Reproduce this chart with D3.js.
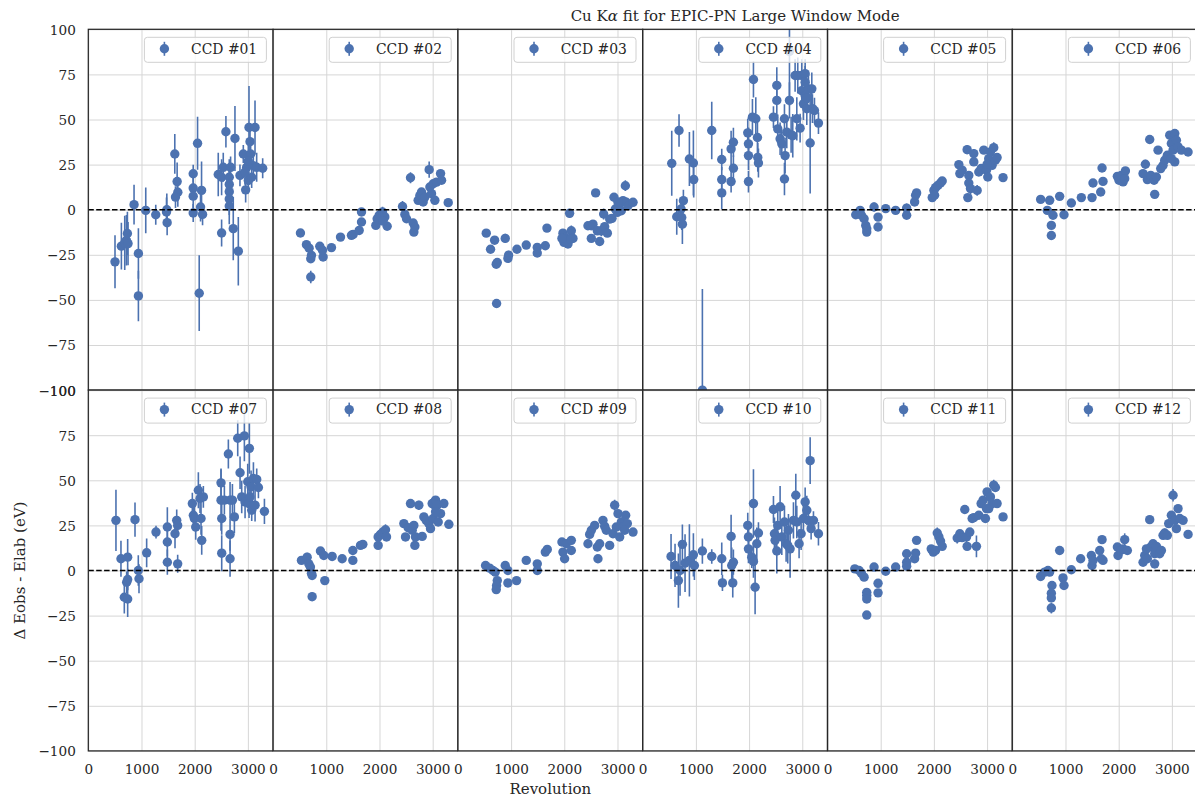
<!DOCTYPE html>
<html>
<head>
<meta charset="utf-8">
<script src="https://cdn.jsdelivr.net/npm/d3@7"></script>
<style>
  html, body { margin: 0; padding: 0; background: #ffffff; }
  svg { display: block; }
  text { font-family: "DejaVu Serif", serif; fill: #262626; }
</style>
</head>
<body>
<svg id="chart" width="1195" height="798"></svg>
<script>
// Each row: [revolution, delta E (eV), 1-sigma error (eV)]
const ccd01 = [[502,-28.9,14.7],[622,-20.2,13],[685,-18.4,15],[716,-17,14],[735,-13.2,12],[747,-18.8,12],[860,2.8,11],[942,-24.3,14],[942,-47.8,14],[1080,-0.4,12.7],[1268,-2.8,5.5],[1476,0,9],[1482,-7.2,7],[1470,-1.3,8],[1626,30.9,11],[1670,15.6,10.5],[1683,9.7,8],[1639,7,6],[1972,19.9,5],[1972,12,6],[1972,7.5,7],[1972,-1.8,5],[2054,36.8,14.7],[2085,-46.3,21],[2129,10.7,16],[2110,1.5,8],[2148,-2.6,6],[2443,19.5,12],[2506,-12.9,7.5],[2506,18,10],[2537,23.5,8],[2587,43.2,8.7],[2650,18,10],[2650,14,9],[2650,10,8],[2650,6,9],[2650,2,10],[2675,23.5,6],[2757,39.5,18],[2725,-10.5,17.5],[2820,-23,19],[2851,19,6],[2914,30.9,5],[2958,11,7],[2977,23.5,8],[3021,45.6,23],[3040,37.7,10],[3052,30.9,8],[3008,16.2,7],[3102,24.4,6],[3134,45.6,15],[3165,23.5,8],[3278,23,5.5],[3008,27,9],[2945,20.8,7],[3071,18,6]];
const ccd02 = [[514,-12.9,2],[627,-19.4,2],[677,-21.3,2],[721,-25.3,2],[708,-27.2,2],[708,-37.3,3.5],[878,-20.3,2],[940,-26.2,2],[928,-22.5,2],[1097,-21,1.5],[1267,-15.2,1.5],[1473,-14.2,1.5],[1505,-13.7,1.5],[1618,-11.5,2],[1662,-6.8,2],[1662,-1.3,2],[1931,-8.7,2],[1956,-5,2],[1994,-3.1,3],[2057,-1.3,3],[2100,-4,2],[2144,-9.2,2],[2069,-6.3,2],[2433,1.8,3],[2477,-2.6,2],[2508,-5,2],[2583,17.7,3],[2633,-7.4,2],[2646,-12.4,2],[2665,-9.6,2],[2727,5.2,2],[2759,7.9,3],[2790,9.8,2],[2821,4.3,2],[2853,7,2],[2934,22.2,4.5],[2947,12.6,2],[2978,8.9,2],[3010,14.4,2],[3041,5.2,2],[3072,15.3,2],[3148,20,2],[3167,16.3,2],[3292,3.9,2]];
const ccd03 = [[533,-13,2],[690,-16.9,2],[614,-21.9,2],[890,-15.9,2.5],[740,-29.3,2],[721,-30.2,2],[727,-52,2.5],[940,-27,2],[953,-25.2,2.5],[1110,-21.9,2],[1285,-19.6,2],[1492,-20.9,2],[1492,-24,2],[1643,-20,2],[1674,-10.2,2],[1975,-13,2],[1994,-18.1,2],[2019,-15.4,2],[2069,-19,2],[2100,-2,2.5],[2132,-11.7,3],[2163,-15.9,2],[2119,-16.3,2],[1956,-15.9,2],[2445,-8.9,2],[2508,-15.9,2],[2508,-8.9,2],[2539,-8,2],[2589,9.3,2],[2621,-11.7,2],[2665,-17.6,2],[2696,-11.7,3],[2740,-2.4,3],[2759,-9.4,2],[2809,-13,2],[2853,-5.2,2],[2897,-4.8,2],[2934,6.9,2],[2959,0.4,2],[2997,-1.5,2],[3041,3.1,2],[3072,-0.6,2],[3148,13.3,3],[3104,5,2],[3166,4.1,2],[3198,2.2,2],[3292,4.1,2],[3010,4.1,2]];
const ccd04 = [[546,25.7,18],[683,43.9,9],[640,-3.9,10],[721,0.4,6],[765,5,6],[734,-4.3,7],[746,-8,11],[878,28.1,15],[953,25.9,18],[959,16.7,10],[1122,-100,56],[1298,43.9,16],[1486,27.8,6],[1486,16.7,7],[1486,9.3,9],[1662,15.6,6],[1662,33.7,10],[1705,37.4,8],[1705,23,7],[1975,42.6,8],[1988,36.5,9],[1988,30,8],[1988,15.6,6],[2082,72.2,10],[2063,51.3,10],[2126,50.4,12],[2157,40,9],[2163,29,8],[2176,25.9,8],[2458,51.3,6],[2521,68.9,10],[2521,60.6,9],[2539,44.8,8],[2583,39.3,9],[2615,36.5,8],[2665,17,9],[2677,30,10],[2665,50.4,8],[2709,43,9],[2759,87.8,30],[2759,60.6,10],[2790,41.5,10],[2821,41,12],[2865,74.4,9],[2897,50.4,12],[2915,74.4,10],[2959,45.2,8],[2990,74.4,9],[3054,75.4,8],[2990,66,9],[3022,58.7,9],[3054,63.3,8],[3085,56,9],[3116,67,8],[3148,37,28],[3179,67,9],[3191,56,8],[3229,55,7],[3304,48,6],[3054,70.7,9],[3085,62,8]];
const ccd05 = [[531,-2.8,2],[613,-0.4,2],[638,-3.1,2],[688,-5,2],[719,-8.7,2],[738,-12.4,2],[738,-10.6,2],[875,1.5,2.5],[950,-4.1,2],[950,-9.6,2],[1094,0.6,2],[1281,-0.4,2],[1488,0.9,2.5],[1488,-3.1,2],[1638,4.3,2],[1675,9.3,2],[1656,8,2],[1969,6.7,2],[2000,10.7,2],[2031,12.2,2],[2075,13.5,2],[2125,14.8,3],[2156,15.9,2],[2013,8,2],[2469,25,2],[2488,20,2],[2531,21.9,2],[2625,33.3,2.5],[2656,19,2],[2656,14.8,2],[2638,6.7,2],[2688,11.7,3],[2750,31.1,2.5],[2750,26.5,2],[2813,10.7,3],[2844,20.9,2],[2888,22.8,2],[2938,33,2],[2988,21.9,2],[3013,18.1,2],[3031,28.3,2],[3063,32,2],[3094,24.6,2],[3125,34.4,3],[3156,27.4,2],[3188,28.9,2],[3300,17.8,2],[3000,25.2,2]];
const ccd06 = [[533,5.7,2],[702,5.2,2],[658,-0.4,2],[765,-3.1,2],[734,-8.7,2],[734,-14.3,2.5],[890,7.4,2],[972,-2.8,2],[1110,3.7,2],[1298,6.7,2],[1499,6.7,2],[1517,14.8,2],[1662,9.8,2],[1687,23.1,2],[1705,15.7,2],[1975,18.5,2],[2006,16.3,2],[2050,19,2],[2082,15.4,2],[2126,21.5,2],[2113,17.2,2],[2458,20,2],[2502,25.2,2.5],[2539,16.7,2],[2583,38.9,2],[2602,19,2],[2665,16.3,2],[2677,8.5,2],[2709,18.1,2],[2740,33,2],[2790,22.8,2],[2834,24.6,2],[2865,27.4,2],[2915,30.2,2],[2959,41.3,2],[2990,36.7,2],[3022,33,2],[3054,42.2,2],[3054,26.5,2],[3085,38.5,2],[3116,34.8,2],[3179,33,2],[3304,32,2],[2990,28.3,2]];
const ccd07 = [[520,27.8,17],[614,6.5,10],[740,7.4,10],[677,-14.8,9],[740,-15.8,10],[721,-6.5,6],[740,-5,6],[878,28.2,9.5],[940,0,8.5],[953,-4.6,8],[1097,9.8,8],[1273,21.3,3.5],[1486,24.1,11],[1486,15.8,8],[1486,4.6,7],[1630,20.4,8],[1662,27.8,6],[1680,25,5],[1680,3.7,5],[1956,37.1,6],[1975,30.6,8],[1994,28.8,7],[2019,24.1,7],[2069,44.5,10],[2100,39.9,8],[2119,28.8,9],[2132,16.7,8],[2163,40.8,6],[2495,48.6,8],[2495,39,17],[2508,28.8,9],[2508,9.6,10],[2558,39,8],[2633,64.6,8],[2665,6.5,10],[2665,20,9],[2665,39,10],[2709,39,9],[2746,29.7,9],[2809,73.3,10],[2853,54.2,9],[2884,40.8,9],[2934,74.6,14],[2947,38,9],[2997,49.2,10],[3022,37.1,8],[3028,67.7,14],[3060,46.4,9],[3072,33.4,6],[3104,51,9],[3135,36.2,9],[3166,50.5,6],[3198,46,6],[3311,32.8,7],[3041,40.8,8]];
const ccd08 = [[533,5.6,2],[640,7.4,2.5],[671,3.7,2],[702,1.9,2],[721,-1.5,2],[734,-2.8,2],[734,-14.5,2.5],[890,10.8,2],[953,8.3,2],[972,-5.6,2],[1110,7.8,2],[1298,6.5,2],[1499,11.1,2],[1499,5.6,2],[1643,13.9,2],[1687,14.5,2],[1975,18.6,2],[1975,13.9,2],[2019,20,2],[2063,21.3,2],[2113,22.6,3],[2132,18.6,2],[2458,26,2],[2489,18.6,2],[2539,23.7,2],[2583,37.1,2],[2615,22.3,2],[2646,25,2],[2665,13.9,2],[2677,18.6,2],[2740,36.2,2.5],[2803,18.9,2],[2834,29.7,2],[2878,27.8,2],[2928,26,2],[2959,23.2,2],[2990,37.1,3],[3010,28.8,2],[3054,39,2],[3085,36.2,2],[3104,26.9,2],[3148,31.5,2],[3210,37.1,2],[3304,25.6,2],[3054,32.5,2]];
const ccd09 = [[520,2.8,2],[596,1.3,2],[658,0,2],[702,-0.9,2],[740,-5.6,2],[727,-8.3,2],[721,-10.6,2],[890,2.8,2],[940,0,2],[940,-6.9,2],[1103,-5.6,2],[1285,5.6,2],[1492,3.7,2],[1492,0,2],[1643,10.2,2],[1680,11.7,2],[1956,15.8,2],[1975,10.2,2],[2006,6.5,2],[2038,14.8,2],[2132,16.7,2],[2132,11.1,2],[2445,14.8,2],[2477,20,2],[2508,22.3,2],[2571,25,2],[2621,13,2],[2633,6.5,2],[2665,14.8,2],[2727,27.8,2],[2759,24.5,2],[2790,22.3,2],[2853,13.9,2],[2916,20.4,2],[2947,36.2,3],[2978,24.1,2],[3010,31.5,2],[3041,18.6,2],[3072,26.9,2.5],[3104,24.1,2],[3154,30.6,2],[3185,26,2],[3292,21.3,2],[3135,22.3,2]];
const ccd10 = [[533,7.8,12.5],[608,2.8,12],[671,-5.6,15],[702,0,14],[746,14.5,11],[796,4.1,16],[878,5.6,20],[953,8.7,12],[972,2.8,8],[1122,10.8,7],[1298,7.8,4],[1486,6.5,9],[1499,-6.9,4.5],[1662,18.9,12],[1674,2.8,10],[1693,-6.9,8],[1705,4.6,7],[1975,25,7],[1988,18.6,8],[1988,12,8],[2050,7.4,6],[2082,37.1,19],[2082,5,9],[2113,-9.3,15],[2145,14.8,9],[2176,20.8,6],[2458,33.8,7.5],[2477,20.4,9],[2489,16.7,8],[2521,10.8,12.5],[2539,25,8],[2583,35.3,11.5],[2615,18.6,10],[2665,26.9,9],[2696,14.8,10],[2727,13.9,10],[2740,22.3,9],[2771,12,16],[2834,27.8,10],[2878,41.7,12],[2897,26.9,9],[2940,14.8,8],[2978,20.4,9],[3022,28.8,10],[3054,38,8],[3085,33.4,8],[3116,27.8,6],[3148,60.9,13],[3166,23.2,6],[3210,27.8,5],[3304,20.4,6.5]];
const ccd11 = [[513,0.9,2],[594,0,2],[638,-1.5,2],[688,-3.7,2],[738,-12.1,2],[738,-13.9,2],[738,-15.8,2],[738,-24.7,2],[875,1.9,2],[950,-7.1,2],[950,-12.4,2],[1094,-0.4,2],[1281,1.9,2],[1488,4.6,2],[1488,9.3,2],[1488,2.4,2],[1638,6.5,2],[1675,16.7,2],[1656,9.6,2],[1950,12,2],[1988,10.2,2],[2031,11.1,2],[2063,20.8,3],[2094,18.6,2],[2125,16.3,2],[2156,13.4,2],[2438,18,3],[2488,20.4,2],[2531,18.2,2],[2581,33.8,2.5],[2613,18.6,3],[2625,13.4,2],[2675,21.3,2],[2719,28.8,2],[2750,29.3,2],[2800,13.4,6],[2844,30.6,2],[2888,37.1,2],[2925,39,2],[2969,28.8,2],[3000,43.6,2],[3031,34.3,2],[3063,40.8,2],[3094,37.1,2],[3125,47.3,3],[3156,46,2],[3188,37.1,2],[3300,29.7,2],[2988,34.3,2]];
const ccd12 = [[533,-3.3,2],[608,-0.9,2],[671,0,2],[702,-0.9,2],[746,-8.3,2],[734,-12.6,2],[734,-15.2,2],[734,-20.8,3],[890,11.1,2.5],[953,-4.1,2],[972,-8.3,2],[1110,0.4,2],[1285,6.5,2],[1486,8.3,2],[1499,2.8,2],[1517,5.6,2],[1643,11.1,2],[1674,6.5,2],[1687,17.1,2],[1705,5.6,2],[1975,13,2],[1988,8.3,2],[2038,11.1,2],[2082,12,2],[2113,17.1,3.5],[2163,11.1,2],[2458,4.6,2],[2489,8.3,2],[2521,12,2],[2539,6.5,2],[2583,28.2,2],[2602,13,2],[2646,14.8,2],[2677,3.7,2.5],[2677,9.3,2],[2709,13.4,2],[2771,9.3,2],[2803,11.1,2],[2834,19.5,2],[2865,20.8,2.5],[2915,19.5,2],[2940,26,2],[2990,30.6,2],[3022,41.7,3.5],[3054,27.8,2],[3085,23.2,2],[3116,34.3,2],[3148,28.8,2],[3210,27.8,2],[3304,20,2]];

const ccdLabels = ["CCD #01","CCD #02","CCD #03","CCD #04","CCD #05","CCD #06",
                   "CCD #07","CCD #08","CCD #09","CCD #10","CCD #11","CCD #12"];
const yTicks = [-100, -75, -50, -25, 0, 25, 50, 75, 100];
const xTicks = [0, 1000, 2000, 3000];
const xDomain = [0, 3474];
const yDomain = [-100, 100];

const allSeries = [ccd01, ccd02, ccd03, ccd04, ccd05, ccd06,
                   ccd07, ccd08, ccd09, ccd10, ccd11, ccd12];

// ---- layout ----
const gridLeft = 88.3, gridTop = 29.3, pw = 184.8, ph = 360.8;
const nCols = 6;
const blue = "#4c72b0";
const ink = "#262626";
const gridColor = "#d6d6d6";
const tickFont = 13.6;

const svg = d3.select("#chart");
svg.append("rect").attr("width", 1195).attr("height", 798).attr("fill", "#ffffff");

const x = d3.scaleLinear().domain(xDomain).range([0, pw]);
const y = d3.scaleLinear().domain(yDomain).range([ph, 0]);
const fmtY = d => d < 0 ? "\u2212" + Math.abs(d) : String(d);

const defs = svg.append("defs");
defs.append("clipPath").attr("id", "panel-clip")
  .append("rect").attr("x", 0).attr("y", 0).attr("width", pw).attr("height", ph);

allSeries.forEach((data, i) => {
  const col = i % nCols, row = Math.floor(i / nCols);
  const g = svg.append("g")
    .attr("transform", `translate(${gridLeft + col * pw},${gridTop + row * ph})`);

  // grid
  const gx = g.append("g").attr("class", "grid-x")
    .attr("transform", `translate(0,${ph})`)
    .call(d3.axisBottom(x).tickValues(xTicks).tickSize(-ph).tickFormat(""));
  const gy = g.append("g").attr("class", "grid-y")
    .call(d3.axisLeft(y).tickValues(yTicks).tickSize(-pw).tickFormat(""));
  [gx, gy].forEach(a => {
    a.select(".domain").remove();
    a.selectAll("line").attr("stroke", gridColor).attr("stroke-width", 1);
  });

  // data: error bars then markers, clipped to the axes
  const plot = g.append("g").attr("clip-path", "url(#panel-clip)");
  plot.selectAll("line.err").data(data).join("line")
    .attr("class", "err")
    .attr("x1", d => x(d[0])).attr("x2", d => x(d[0]))
    .attr("y1", d => y(d[1] - d[2])).attr("y2", d => y(d[1] + d[2]))
    .attr("stroke", blue).attr("stroke-width", 1.6);
  plot.selectAll("circle.pt").data(data).join("circle")
    .attr("class", "pt")
    .attr("cx", d => x(d[0])).attr("cy", d => y(d[1]))
    .attr("r", 4.7).attr("fill", blue);

  // zero reference
  plot.append("line")
    .attr("x1", 0).attr("x2", pw).attr("y1", y(0)).attr("y2", y(0))
    .attr("stroke", "#000").attr("stroke-width", 1.5)
    .attr("stroke-dasharray", "5.5,2.4");

  // spines
  g.append("rect").attr("width", pw).attr("height", ph)
    .attr("fill", "none").attr("stroke", ink).attr("stroke-width", 1.25);

  // tick labels
  if (col === 0) {
    const ay = g.append("g")
      .call(d3.axisLeft(y).tickValues(yTicks).tickSize(0).tickPadding(12.5).tickFormat(fmtY));
    ay.select(".domain").remove();
    ay.attr("font-family", null).attr("font-size", null);
    ay.selectAll("text").attr("font-size", tickFont).attr("fill", ink).attr("dy", "0.36em");
  }
  if (row === 1) {
    const ax = g.append("g").attr("transform", `translate(0,${ph})`)
      .call(d3.axisBottom(x).tickValues(xTicks).tickSize(0).tickPadding(13).tickFormat(d3.format("d")));
    ax.select(".domain").remove();
    ax.attr("font-family", null).attr("font-size", null);
    ax.selectAll("text").attr("font-size", tickFont).attr("fill", ink);
  }

  // legend
  const lw = 122, lh = 25;
  const lg = g.append("g").attr("transform", `translate(${pw - 6.7 - lw},8)`);
  lg.append("rect").attr("width", lw).attr("height", lh).attr("rx", 3)
    .attr("fill", "#ffffff").attr("fill-opacity", 0.8)
    .attr("stroke", "#d0d0d0").attr("stroke-width", 1);
  lg.append("line").attr("x1", 20).attr("x2", 20).attr("y1", 4.5).attr("y2", 18.5)
    .attr("stroke", blue).attr("stroke-width", 1.6);
  lg.append("circle").attr("cx", 20).attr("cy", 11.5).attr("r", 4.7).attr("fill", blue);
  lg.append("text").attr("x", 46.7).attr("y", 16.4)
    .attr("font-size", 13.9).text(ccdLabels[i]);
});

// title over the fourth panel of the top row
svg.append("text")
  .attr("x", gridLeft + 3.5 * pw).attr("y", 20.7)
  .attr("text-anchor", "middle").attr("font-size", 15)
  .call(t => {
    t.append("tspan").text("Cu K");
    t.append("tspan").attr("font-style", "italic").text("\u03b1");
    t.append("tspan").text(" fit for EPIC-PN Large Window Mode");
  });

// axis labels
svg.append("text")
  .attr("transform", `translate(25,${gridTop + 1.5 * ph}) rotate(-90)`)
  .attr("text-anchor", "middle").attr("font-size", 15)
  .text("\u0394 Eobs - Elab (eV)");
svg.append("text")
  .attr("x", gridLeft + 2.5 * pw).attr("y", 794)
  .attr("text-anchor", "middle").attr("font-size", 15)
  .text("Revolution");
</script>
</body>
</html>
